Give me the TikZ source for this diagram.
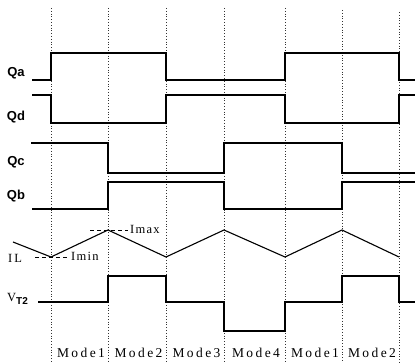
\documentclass[tikz,border=0pt]{standalone}
\usepackage{fontspec}
\setmainfont{Liberation Serif}
\newfontfamily\qfont{Liberation Sans}
\newfontfamily\modefont{Liberation Serif}[LetterSpace=18]
\newfontfamily\ifont{Liberation Serif}[LetterSpace=10]
\begin{document}
\begin{tikzpicture}[x=1pt,y=-1pt,
  wave/.style={line width=1.3pt, line join=miter},
  guide/.style={dotted, line width=0.8pt, black!80},
  lvl/.style={dash pattern=on 4pt off 3pt, line width=0.8pt},
  qlab/.style={font=\qfont\bfseries\fontsize{13}{13}\selectfont, inner sep=0pt},
  ilab/.style={font=\ifont\fontsize{12.5}{12.5}\selectfont, inner sep=0pt},
  mlab/.style={font=\modefont\fontsize{13.5}{13.5}\selectfont, inner sep=0pt}]
\useasboundingbox (0,0) rectangle (415,363);
% guide lines
\foreach \x/\t in {51/8,108/8,166/8,224/8,285/8,342/10,399/12}
  \draw[guide] (\x,\t) -- (\x,363);
% labels
\node[qlab] (qa) at (16,73) {Qa};
\node[qlab] (qd) at (16,117) {Qd};
\node[qlab] (qc) at (16,162) {Qc};
\node[qlab] (qb) at (16,196) {Qb};
% Qa
\draw[wave] (32,80) -- (51,80) -- (51,53) -- (166,53) -- (166,80) -- (285,80) -- (285,53) -- (399,53) -- (399,80) -- (415,80);
% Qd
\draw[wave] (32,95) -- (51,95) -- (51,123) -- (166,123) -- (166,95) -- (285,95) -- (285,123) -- (399,123) -- (399,95) -- (415,95);
% Qc
\draw[wave] (31,143) -- (108,143) -- (108,173) -- (224,173) -- (224,143) -- (342,143) -- (342,173) -- (415,173);
% Qb
\draw[wave] (32,209) -- (108,209) -- (108,182) -- (224,182) -- (224,209) -- (342,209) -- (342,182) -- (415,182);
% IL
\draw[line width=1.1pt] (13,242) -- (51,257) -- (108,230) -- (166,257) -- (224,230) -- (285,257) -- (342,230) -- (399,257);
\draw[lvl] (90,230) -- (128,230);
\draw[lvl] (35,257) -- (68,257);
\node[ilab, anchor=west] (imax) at (130,229) {Imax};
\node[ilab, anchor=west] (imin) at (71,256) {Imin};
\node[ilab] (il) at (15,258) {I\,L};
% VT2
\node[ilab, anchor=base west] (vt) at (7,302) {V\raisebox{-2pt}{\qfont\bfseries\fontsize{10}{10}\selectfont T2}};
\draw[wave] (38,302) -- (108,302) -- (108,276) -- (166,276) -- (166,302) -- (224,302) -- (224,331) -- (285,331) -- (285,302) -- (342,302) -- (342,276) -- (399,276) -- (399,302) -- (415,302);
% modes
\node[mlab] (m1) at (81,353) {Mode1};
\node[mlab] (m2) at (138.5,353) {Mode2};
\node[mlab] (m3) at (196.5,353) {Mode3};
\node[mlab] (m4) at (256,353) {Mode4};
\node[mlab] (m5) at (315,353) {Mode1};
\node[mlab] (m6) at (372,353) {Mode2};
\end{tikzpicture}
\end{document}
